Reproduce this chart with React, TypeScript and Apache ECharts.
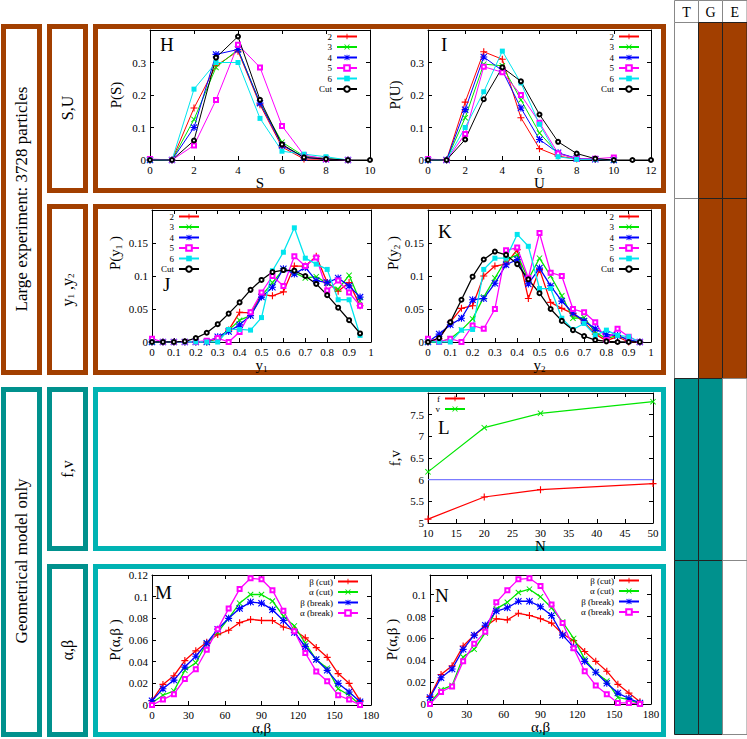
import React, { useEffect, useRef } from "react";
import * as echarts from "echarts";

// ---------------- data ----------------
const sX = [0, 1, 2, 3, 4, 5, 6, 7, 8, 9];
const sCutX = [0, 1, 2, 3, 4, 5, 6, 7, 8, 9, 10];
const pS2 = [0, 0, 0.16, 0.29, 0.335, 0.17, 0.04, 0.003, 0.002, 0];
const pS3 = [0, 0, 0.125, 0.285, 0.34, 0.175, 0.055, 0.012, 0.005, 0];
const pS4 = [0, 0, 0.1, 0.325, 0.34, 0.175, 0.045, 0.008, 0.002, 0];
const pS5 = [0.003, 0, 0.045, 0.185, 0.355, 0.285, 0.105, 0.015, 0.003, 0];
const pS6 = [0, 0, 0.218, 0.3, 0.3, 0.128, 0.027, 0.018, 0.01, 0];
const pSCut = [0, 0, 0.06, 0.315, 0.38, 0.185, 0.048, 0.008, 0.003, 0, 0];

const uX = [0, 1, 2, 3, 4, 5, 6, 7, 8, 9, 10];
const uCutX = [0, 1, 2, 3, 4, 5, 6, 7, 8, 9, 10, 11, 12];
const pU2 = [0, 0, 0.178, 0.333, 0.31, 0.13, 0.035, 0.012, 0.003, 0.002, 0];
const pU3 = [0, 0, 0.13, 0.295, 0.29, 0.185, 0.083, 0.02, 0.005, 0.003, 0];
const pU4 = [0, 0, 0.155, 0.317, 0.275, 0.16, 0.063, 0.022, 0.005, 0.002, 0];
const pU5 = [0.003, 0, 0.08, 0.287, 0.27, 0.2, 0.115, 0.02, 0.004, 0.004, 0.008];
const pU6 = [0, 0, 0.1, 0.21, 0.335, 0.237, 0.11, 0.01, 0.002, 0.002, 0];
const pUCut = [0, 0, 0.063, 0.187, 0.285, 0.242, 0.14, 0.056, 0.02, 0.004, 0, 0, 0];

const yX = [0, 0.05, 0.1, 0.15, 0.2, 0.25, 0.3, 0.35, 0.4, 0.45, 0.5, 0.55, 0.6, 0.65, 0.7, 0.75, 0.8, 0.85, 0.9, 0.95];
const pY1_2 = [0, 0, 0, 0, 0, 0, 0.005, 0.018, 0.045, 0.044, 0.072, 0.07, 0.076, 0.115, 0.115, 0.13, 0.09, 0.077, 0.09, 0.055];
const pY1_3 = [0, 0, 0, 0, 0, 0, 0.006, 0.018, 0.033, 0.04, 0.07, 0.09, 0.11, 0.105, 0.097, 0.099, 0.089, 0.08, 0.101, 0.062];
const pY1_4 = [0, 0, 0, 0, 0, 0, 0.008, 0.016, 0.026, 0.04, 0.068, 0.083, 0.111, 0.103, 0.113, 0.093, 0.09, 0.097, 0.085, 0.068];
const pY1_5 = [0.005, 0, 0, 0, 0, 0.002, 0.006, 0, 0.015, 0.045, 0.075, 0.1, 0.085, 0.13, 0.115, 0.128, 0.078, 0.093, 0.075, 0.055];
const pY1_6 = [0, 0, 0, 0, 0, 0, 0, 0.019, 0.019, 0.018, 0.037, 0.108, 0.136, 0.173, 0.127, 0.118, 0.11, 0.064, 0.064, 0.01];
const pY1_Cut = [0, 0, 0, 0.001, 0.006, 0.014, 0.027, 0.043, 0.06, 0.079, 0.094, 0.106, 0.109, 0.108, 0.1, 0.088, 0.071, 0.052, 0.033, 0.013];

const pY2_2 = [0, 0.005, 0.03, 0.051, 0.055, 0.1, 0.115, 0.118, 0.14, 0.066, 0.11, 0.06, 0.051, 0.043, 0.03, 0.012, 0.002, 0.008, 0, 0];
const pY2_3 = [0, 0, 0.005, 0.018, 0.035, 0.068, 0.097, 0.125, 0.132, 0.095, 0.127, 0.1, 0.07, 0.036, 0.037, 0.015, 0.005, 0.01, 0.003, 0];
const pY2_4 = [0, 0.012, 0.026, 0.036, 0.064, 0.066, 0.089, 0.117, 0.125, 0.088, 0.112, 0.085, 0.062, 0.044, 0.032, 0.02, 0.011, 0.01, 0.003, 0];
const pY2_5 = [0.005, 0, 0.005, 0, 0.025, 0.02, 0.05, 0.139, 0.143, 0.097, 0.165, 0.105, 0.1, 0.05, 0.045, 0.03, 0.003, 0.02, 0.008, 0];
const pY2_6 = [0, 0, 0, 0.018, 0.019, 0.11, 0.127, 0.127, 0.163, 0.145, 0.081, 0.081, 0.036, 0.019, 0.028, 0.01, 0.018, 0.01, 0.008, 0];
const pY2_Cut = [0, 0.006, 0.03, 0.064, 0.099, 0.125, 0.137, 0.132, 0.118, 0.095, 0.074, 0.05, 0.032, 0.018, 0.009, 0.003, 0.001, 0, 0, 0];

const nX = [10, 20, 30, 50];
const fVals = [5.09, 5.6, 5.77, 5.91];
const vVals = [6.18, 7.2, 7.53, 7.8];
const refX = [10, 50];
const refVals = [6, 6];

const angX = [0, 9, 18, 27, 36, 45, 54, 63, 72, 81, 90, 99, 108, 117, 126, 135, 144, 153, 162, 171];
const mBetaCut = [0.004, 0.019, 0.027, 0.041, 0.05, 0.058, 0.065, 0.069, 0.076, 0.079, 0.078, 0.078, 0.072, 0.069, 0.062, 0.053, 0.044, 0.029, 0.02, 0.004];
const mAlphaCut = [0.002, 0.009, 0.013, 0.032, 0.039, 0.057, 0.067, 0.08, 0.094, 0.102, 0.102, 0.096, 0.082, 0.073, 0.057, 0.042, 0.034, 0.015, 0.009, 0];
const mBetaBreak = [0.004, 0.015, 0.023, 0.035, 0.045, 0.057, 0.07, 0.08, 0.089, 0.095, 0.094, 0.088, 0.078, 0.067, 0.054, 0.042, 0.032, 0.02, 0.012, 0.003];
const mAlphaBreak = [0, 0.005, 0.01, 0.024, 0.033, 0.051, 0.07, 0.089, 0.107, 0.117, 0.116, 0.106, 0.087, 0.068, 0.048, 0.031, 0.022, 0.009, 0.005, 0];

const nBetaCut = [0.007, 0.027, 0.035, 0.053, 0.063, 0.071, 0.078, 0.077, 0.083, 0.081, 0.078, 0.074, 0.064, 0.058, 0.048, 0.039, 0.03, 0.018, 0.01, 0.002];
const nAlphaCut = [0.001, 0.013, 0.017, 0.043, 0.05, 0.065, 0.087, 0.093, 0.102, 0.105, 0.098, 0.088, 0.075, 0.06, 0.041, 0.029, 0.021, 0.006, 0.004, 0];
const nBetaBreak = [0.006, 0.024, 0.032, 0.05, 0.063, 0.072, 0.085, 0.088, 0.094, 0.094, 0.089, 0.081, 0.063, 0.052, 0.039, 0.029, 0.019, 0.01, 0.005, 0.001];
const nAlphaBreak = [0, 0.011, 0.016, 0.039, 0.055, 0.066, 0.093, 0.104, 0.114, 0.115, 0.108, 0.091, 0.074, 0.051, 0.03, 0.017, 0.009, 0.001, 0.001, 0];

const sizeNames = ["2", "3", "4", "5", "6", "Cut"];
const angleNames = ["β (cut)", "α (cut)", "β (break)", "α (break)"];
const fvNames = ["f", "v"];
const tgeHeader = ["T", "G", "E"];

// ---------------- styles ----------------
const SERIF = "'Liberation Serif', 'DejaVu Serif', serif";
const RED = "#ff0000", GREEN = "#00e600", BLUE = "#0000ff", MAG = "#ff00ff", CYAN = "#00e5ee", BLACK = "#000000";
const BROWN = "#a23f00", TEAL_D = "#00918d", TEAL_L = "#00b3b3";
const PLUS = "path://M4.2,0H5.8V4.2H10V5.8H5.8V10H4.2V5.8H0V4.2H4.2Z";
const CROSS = "path://M0,1.1L1.1,0L10,8.9L8.9,10Z M8.9,0L10,1.1L1.1,10L0,8.9Z";
const STAR = "path://M4.2,0H5.8V4.2H10V5.8H5.8V10H4.2V5.8H0V4.2H4.2Z M0,1.1L1.1,0L10,8.9L8.9,10Z M8.9,0L10,1.1L1.1,10L0,8.9Z";

type Mk = { color: string; symbol: string; size: number; border: number };
const MK: Record<string, Mk> = {
  p: { color: RED, symbol: PLUS, size: 7, border: 0 },
  x: { color: GREEN, symbol: CROSS, size: 6, border: 0 },
  s: { color: BLUE, symbol: STAR, size: 7, border: 0 },
  o: { color: MAG, symbol: "emptyRect", size: 4, border: 0.8 },
  f: { color: CYAN, symbol: "rect", size: 5, border: 0 },
  c: { color: BLACK, symbol: "emptyCircle", size: 4, border: 0.8 },
};

const RICH = {
  s: { fontSize: 9, fontFamily: SERIF, color: "#000", padding: [7, 0, 0, 0] },
};

function line(name: string, xs: number[], ys: number[], mk: Mk, p: number, lw = 1) {
  return {
    type: "line",
    name,
    xAxisIndex: 2 * p,
    yAxisIndex: 2 * p,
    data: xs.map((x, i) => [x, ys[i]]),
    symbol: mk.symbol,
    symbolSize: mk.size,
    showSymbol: true,
    lineStyle: { color: mk.color, width: lw },
    itemStyle: { color: mk.color, borderColor: mk.color, borderWidth: mk.border },
    emphasis: { disabled: true },
  };
}

type Panel = {
  grid: { left: number; top: number; width: number; height: number };
  x: [number, number, number];
  y: [number, number, number];
  hideMaxY: boolean;
  xName: string;
  yName: string;
  yNameGraphic?: { x: number; y: number };
  xGap: number;
  yGap: number;
  legend: { data: string[]; right: number; top: number; gap: number };
  letter: { text: string; x: number; y: number };
};

const panels: Panel[] = [
  { grid: { left: 150, top: 30, width: 220, height: 130 }, x: [0, 10, 2], y: [0, 0.4, 0.1], hideMaxY: true, xName: "S", yName: "P(S)", xGap: 13, yGap: 27, legend: { data: sizeNames, right: 389, top: 32, gap: 1.5 }, letter: { text: "H", x: 160, y: 44 } },
  { grid: { left: 428, top: 30, width: 223, height: 130 }, x: [0, 12, 2], y: [0, 0.4, 0.1], hideMaxY: true, xName: "U", yName: "P(U)", xGap: 13, yGap: 26, legend: { data: sizeNames, right: 107, top: 32, gap: 1.5 }, letter: { text: "I", x: 441, y: 44 } },
  { grid: { left: 152, top: 210, width: 219, height: 132 }, x: [0, 1, 0.1], y: [0, 0.2, 0.05], hideMaxY: true, xName: "y{s|1}", yName: "P(y{s|1} )", yNameGraphic: { x: 115, y: 253 }, xGap: 10, yGap: 29, legend: { data: sizeNames, right: 547, top: 212, gap: 1.5 }, letter: { text: "J", x: 163, y: 284 } },
  { grid: { left: 428, top: 210, width: 223, height: 132 }, x: [0, 1, 0.1], y: [0, 0.2, 0.05], hideMaxY: true, xName: "y{s|2}", yName: "P(y{s|2} )", yNameGraphic: { x: 393, y: 253 }, xGap: 10, yGap: 27, legend: { data: sizeNames, right: 107, top: 212, gap: 1.5 }, letter: { text: "K", x: 438, y: 231 } },
  { grid: { left: 428, top: 393, width: 225, height: 130 }, x: [10, 50, 5], y: [5, 8, 0.5], hideMaxY: true, xName: "N", yName: "f,v", xGap: 14, yGap: 26, legend: { data: fvNames, right: 281, top: 394, gap: 1.5 }, letter: { text: "L", x: 438, y: 427 } },
  { grid: { left: 152, top: 575, width: 219, height: 130 }, x: [0, 180, 30], y: [0, 0.12, 0.02], hideMaxY: false, xName: "α,β", yName: "P(α,β )", xGap: 13, yGap: 30, legend: { data: angleNames, right: 388, top: 577, gap: 1.5 }, letter: { text: "M", x: 155, y: 592 } },
  { grid: { left: 430, top: 575, width: 221, height: 129 }, x: [0, 180, 30], y: [0, 0.118, 0.02], hideMaxY: true, xName: "α,β", yName: "P(α,β )", xGap: 13, yGap: 31, legend: { data: angleNames, right: 107, top: 576, gap: 1.5 }, letter: { text: "N", x: 435, y: 595 } },
];

function buildOption() {
  const grid: any[] = [];
  const xAxis: any[] = [];
  const yAxis: any[] = [];
  const legend: any[] = [];
  const axisLine = { show: true, onZero: false, lineStyle: { color: "#000", width: 1 } };
  const axisTick = { show: true, inside: true, length: 4, lineStyle: { color: "#000" } };
  const lbl = { fontFamily: SERIF, fontSize: 11, color: "#000", margin: 4 };
  const nameStyle = { fontFamily: SERIF, fontSize: 15, color: "#000", rich: RICH };
  const legendText = { fontFamily: SERIF, fontSize: 9, color: "#000" };

  panels.forEach((pn, p) => {
    grid.push({ ...pn.grid, show: false, containLabel: false });
    const xr = { min: pn.x[0], max: pn.x[1], interval: pn.x[2] };
    const yr = { min: pn.y[0], max: pn.y[1], interval: pn.y[2] };
    xAxis.push({ gridIndex: p, type: "value", position: "bottom", ...xr, name: pn.xName, nameLocation: "middle", nameGap: pn.xGap, nameTextStyle: nameStyle, axisLine, axisTick, axisLabel: lbl, splitLine: { show: false } });
    xAxis.push({ gridIndex: p, type: "value", position: "top", ...xr, axisLine, axisTick, axisLabel: { show: false }, splitLine: { show: false } });
    yAxis.push({ gridIndex: p, type: "value", position: "left", ...yr, name: pn.yNameGraphic ? "" : pn.yName, nameLocation: "middle", nameRotate: 90, nameGap: pn.yGap, nameTextStyle: nameStyle, axisLine, axisTick, axisLabel: { ...lbl, showMaxLabel: !pn.hideMaxY }, splitLine: { show: false } });
    yAxis.push({ gridIndex: p, type: "value", position: "right", ...yr, axisLine, axisTick, axisLabel: { show: false }, splitLine: { show: false } });
    legend.push({
      data: pn.legend.data.map((n) => ({ name: n, textStyle: legendText })),
      orient: "vertical", align: "right", right: pn.legend.right, top: pn.legend.top,
      itemWidth: 20, itemHeight: 7, itemGap: pn.legend.gap, padding: 0, selectedMode: false,
      textStyle: legendText,
    });
  });

  const series: any[] = [];
  const sizeSet = (p: number, xs: number[], cx: number[], d: number[][], lw: number) => {
    series.push(line("2", xs, d[0], MK.p, p, lw));
    series.push(line("3", xs, d[1], MK.x, p, lw));
    series.push(line("4", xs, d[2], MK.s, p, lw));
    series.push(line("5", xs, d[3], MK.o, p, lw));
    series.push(line("6", xs, d[4], MK.f, p, lw));
    series.push(line("Cut", cx, d[5], MK.c, p, lw));
  };
  sizeSet(0, sX, sCutX, [pS2, pS3, pS4, pS5, pS6, pSCut], 1);
  sizeSet(1, uX, uCutX, [pU2, pU3, pU4, pU5, pU6, pUCut], 1);
  sizeSet(2, yX, yX, [pY1_2, pY1_3, pY1_4, pY1_5, pY1_6, pY1_Cut], 1.3);
  sizeSet(3, yX, yX, [pY2_2, pY2_3, pY2_4, pY2_5, pY2_6, pY2_Cut], 1.3);

  series.push({ type: "line", name: "ref", xAxisIndex: 8, yAxisIndex: 8, data: refX.map((x, i) => [x, refVals[i]]), symbol: "none", lineStyle: { color: "#7b7bff", width: 1.3 }, emphasis: { disabled: true } });
  series.push(line("f", nX, fVals, MK.p, 4, 1.2));
  series.push(line("v", nX, vVals, MK.x, 4, 1.2));

  const angSet = (p: number, d: number[][]) => {
    series.push(line(angleNames[0], angX, d[0], MK.p, p, 1.3));
    series.push(line(angleNames[1], angX, d[1], MK.x, p, 1.3));
    series.push(line(angleNames[2], angX, d[2], MK.s, p, 1.3));
    series.push(line(angleNames[3], angX, d[3], MK.o, p, 1.3));
  };
  angSet(5, [mBetaCut, mAlphaCut, mBetaBreak, mAlphaBreak]);
  angSet(6, [nBetaCut, nAlphaCut, nBetaBreak, nAlphaBreak]);

  // ---------- graphics: frames, labels, table ----------
  const g: any[] = [];
  const box = (x0: number, y0: number, x1: number, y1: number, color: string) =>
    g.push({ type: "rect", silent: true, z: -1, shape: { x: x0 + 2.5, y: y0 + 2.5, width: x1 - x0 - 5, height: y1 - y0 - 5 }, style: { fill: "none", stroke: color, lineWidth: 5 } });
  box(1, 24, 42, 375, BROWN);
  box(47, 24, 88, 193, BROWN);
  box(47, 204, 88, 375, BROWN);
  box(93, 24, 666, 193, BROWN);
  box(93, 204, 666, 375, BROWN);
  box(1, 387, 42, 737, TEAL_D);
  box(47, 387, 88, 551, TEAL_D);
  box(47, 564, 88, 737, TEAL_D);
  box(93, 387, 666, 551, TEAL_L);
  box(93, 564, 666, 737, TEAL_L);

  const vtext = (text: string, x: number, y: number, size: number) =>
    g.push({ type: "text", silent: true, x, y, rotation: Math.PI / 2, style: { text, fontFamily: SERIF, fontSize: size, fill: "#000", textAlign: "center", textVerticalAlign: "middle", rich: RICH } });
  vtext("Large experiment: 3728 particles", 21, 199, 17);
  vtext("Geometrical model only", 21, 561, 17);
  vtext("S,U", 67, 108, 16);
  vtext("y{s|1} ,y{s|2}", 67, 290, 16);
  vtext("f,v", 67, 469, 16);
  vtext("α,β", 67, 650, 16);

  panels.forEach((pn) => {
    g.push({ type: "text", silent: true, x: pn.letter.x, y: pn.letter.y, style: { text: pn.letter.text, fontFamily: SERIF, fontSize: 19, fill: "#000", textAlign: "left", textVerticalAlign: "middle" } });
    if (pn.yNameGraphic) vtext(pn.yName, pn.yNameGraphic.x, pn.yNameGraphic.y, 15);
  });

  // TGE table
  const cols = [674, 698, 722, 746.5];
  const rows = [22, 198, 378, 560, 734];
  const fills = [
    ["#ffffff", BROWN, BROWN],
    ["#ffffff", BROWN, BROWN],
    [TEAL_D, TEAL_D, "#ffffff"],
    [TEAL_D, TEAL_D, "#ffffff"],
  ];
  tgeHeader.forEach((t, c) => {
    g.push({ type: "rect", silent: true, shape: { x: cols[c] + 0.5, y: 0.5, width: cols[c + 1] - cols[c], height: rows[0] }, style: { fill: "#fff", stroke: "#888", lineWidth: 1 } });
    g.push({ type: "text", silent: true, x: (cols[c] + cols[c + 1]) / 2 + 0.5, y: 12, style: { text: t, fontFamily: SERIF, fontSize: 14, fill: "#000", textAlign: "center", textVerticalAlign: "middle" } });
  });
  fills.forEach((row, r) => {
    row.forEach((f, c) => {
      g.push({ type: "rect", silent: true, shape: { x: cols[c] + 0.5, y: rows[r] + 0.5, width: cols[c + 1] - cols[c], height: rows[r + 1] - rows[r] }, style: { fill: f, stroke: f === "#ffffff" ? "#888" : "#222", lineWidth: 1 } });
    });
  });

  return { animation: false, backgroundColor: "#ffffff", grid, xAxis, yAxis, legend, series, graphic: { elements: g } };
}

export default function App() {
  const ref = useRef<HTMLDivElement>(null);
  useEffect(() => {
    if (!ref.current) return;
    const chart = echarts.init(ref.current, undefined, { renderer: "svg" });
    chart.setOption(buildOption() as any);
    return () => chart.dispose();
  }, []);
  return <div ref={ref} style={{ position: "absolute", left: 0, top: 0, width: 747, height: 739 }} />;
}
